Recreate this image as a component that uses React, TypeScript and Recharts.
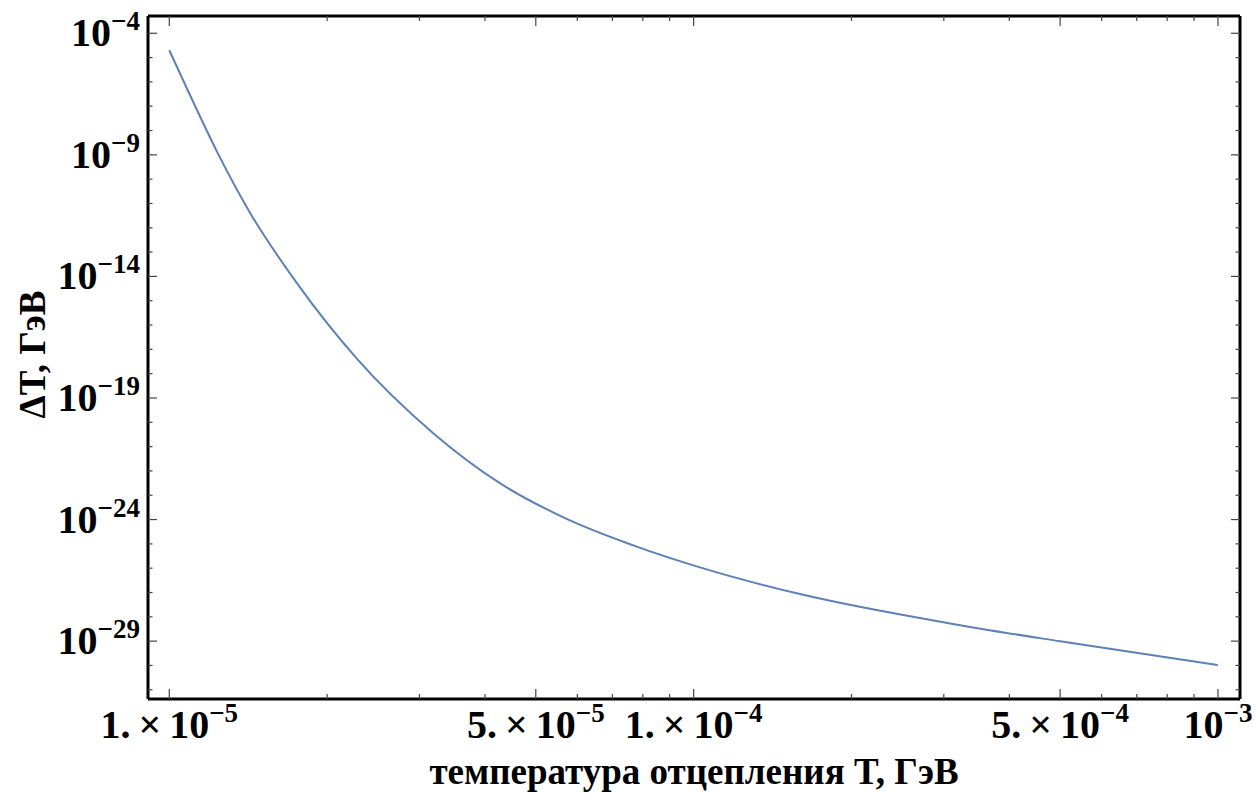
import React from 'react';
import { LineChart, Line, XAxis, YAxis } from 'recharts';

// decoupling temperature T (GeV)
const temperatures = [1.0e-5, 1.095e-5, 1.231e-5, 1.426e-5, 1.75e-5, 2.283e-5, 3.187e-5, 4.27e-5, 5.725e-5, 7.67e-5, 1.028e-4, 1.603e-4, 3.12e-4, 5.0e-4, 1.0e-3];
// ΔT (GeV)
const deltaT = [2.0e-5, 2.9e-7, 1.45e-9, 4.08e-12, 5.4e-15, 3.94e-18, 3.57e-21, 3.14e-23, 1.07e-24, 8.7e-26, 1.08e-26, 8.4e-28, 5.1e-29, 9.8e-30, 1.03e-30];

const xMajorTicks = [1e-5, 5e-5, 1e-4, 5e-4, 1e-3];
const xMajorLabels = [
  { base: '1.\u2009\u00d7\u200910', exp: '\u22125' },
  { base: '5.\u2009\u00d7\u200910', exp: '\u22125' },
  { base: '1.\u2009\u00d7\u200910', exp: '\u22124' },
  { base: '5.\u2009\u00d7\u200910', exp: '\u22124' },
  { base: '10', exp: '\u22123' },
];
const xMinorTicks = [2e-5, 3e-5, 4e-5, 6e-5, 7e-5, 8e-5, 9e-5, 2e-4, 3e-4, 4e-4, 6e-4, 7e-4, 8e-4, 9e-4];
const yMajorExponents = [-4, -9, -14, -19, -24, -29];
const yMinorExponents = [-5, -6, -7, -8, -10, -11, -12, -13, -15, -16, -17, -18, -20, -21, -22, -23, -25, -26, -27, -28, -30, -31];

const xTitle = 'температура отцепления T, ГэВ';
const yTitle = 'ΔT, ГэВ';

const data = temperatures.map((t, i) => ({ t, d: deltaT[i] }));

const xTicks = [...xMajorTicks, ...xMinorTicks].sort((a, b) => a - b);
const yTicks = [...yMajorExponents, ...yMinorExponents].sort((a, b) => a - b).map((e) => Math.pow(10, e));

const FONT = '"Liberation Serif", "Times New Roman", Times, serif';
const TICK_COLOR = '#444';
const BASE_SIZE = 40;
const SUP_SIZE = 27;

const isXMajor = (v: number) => xMajorTicks.findIndex((m) => Math.abs(m - v) / m < 1e-6);
const yExp = (v: number) => Math.round(Math.log10(v));
const isYMajor = (v: number) => yMajorExponents.includes(yExp(v));

const BottomTick = (props: any) => {
  const { x, y, payload } = props;
  const idx = isXMajor(payload.value);
  const len = idx >= 0 ? 10 : 5;
  return (
    <g>
      <line x1={x} x2={x} y1={y} y2={y - len} stroke={TICK_COLOR} strokeWidth={1.2} />
      {idx >= 0 && (
        <text x={x} y={y + 39} textAnchor="middle" fontFamily={FONT} fontWeight="bold" fontSize={BASE_SIZE} fill="#000">
          <tspan>{xMajorLabels[idx].base}</tspan>
          <tspan dy={-16} fontSize={SUP_SIZE}>{xMajorLabels[idx].exp}</tspan>
        </text>
      )}
    </g>
  );
};

const TopTick = (props: any) => {
  const { x, y, payload } = props;
  const idx = isXMajor(payload.value);
  const len = idx >= 0 ? 10 : 5;
  return <line x1={x} x2={x} y1={y} y2={y + len} stroke={TICK_COLOR} strokeWidth={1.2} />;
};

const LeftTick = (props: any) => {
  const { x, y, payload } = props;
  const major = isYMajor(payload.value);
  const len = major ? 9 : 4.5;
  return (
    <g>
      <line x1={x} x2={x + len} y1={y} y2={y} stroke={TICK_COLOR} strokeWidth={1.2} />
      {major && (
        <text x={x - 8} y={y + 13} textAnchor="end" fontFamily={FONT} fontWeight="bold" fontSize={BASE_SIZE} fill="#000">
          <tspan>10</tspan>
          <tspan dy={-16} fontSize={SUP_SIZE}>{'\u2212' + String(-yExp(payload.value))}</tspan>
        </text>
      )}
    </g>
  );
};

const RightTick = (props: any) => {
  const { x, y, payload } = props;
  const major = isYMajor(payload.value);
  const len = major ? 9 : 4.5;
  return <line x1={x} x2={x - len} y1={y} y2={y} stroke={TICK_COLOR} strokeWidth={1.2} />;
};

const XTitle = (props: any) => {
  const vb = props.viewBox || {};
  return (
    <text x={vb.x + vb.width / 2} y={vb.y + 85} textAnchor="middle" fontFamily={FONT} fontWeight="bold" fontSize={37} fill="#000">
      {xTitle}
    </text>
  );
};

const YTitle = (props: any) => {
  const vb = props.viewBox || {};
  const cx = 45;
  const cy = vb.y + vb.height / 2 - 3;
  return (
    <text x={cx} y={cy} transform={`rotate(-90, ${cx}, ${cy})`} textAnchor="middle" fontFamily={FONT} fontWeight="bold" fontSize={37} fill="#000">
      {yTitle}
    </text>
  );
};

const xDomain = [Math.pow(10, -5.0406), Math.pow(10, -2.958)];
const yDomain = [Math.pow(10, -31.38), Math.pow(10, -3.29)];

export default function App() {
  return (
    <div style={{ position: 'absolute', left: 0, top: 0, background: '#fff' }}>
      <LineChart width={1256} height={796} data={data} margin={{ top: 15, right: 15, left: 0, bottom: 0 }}>
        <XAxis
          xAxisId="b"
          dataKey="t"
          type="number"
          scale="log"
          domain={xDomain}
          allowDataOverflow
          ticks={xTicks}
          interval={0}
          tickSize={0}
          tickMargin={0}
          height={97}
          axisLine={{ stroke: '#000', strokeWidth: 3 }}
          tickLine={false}
          tick={<BottomTick />}
          label={{ content: <XTitle /> }}
        />
        <XAxis
          xAxisId="t"
          orientation="top"
          dataKey="t"
          type="number"
          scale="log"
          domain={xDomain}
          allowDataOverflow
          ticks={xTicks}
          interval={0}
          tickSize={0}
          tickMargin={0}
          height={1}
          axisLine={{ stroke: '#000', strokeWidth: 3 }}
          tickLine={false}
          tick={<TopTick />}
        />
        <YAxis
          yAxisId="l"
          type="number"
          scale="log"
          domain={yDomain}
          allowDataOverflow
          ticks={yTicks}
          interval={0}
          tickSize={0}
          tickMargin={0}
          width={148}
          axisLine={{ stroke: '#000', strokeWidth: 3 }}
          tickLine={false}
          tick={<LeftTick />}
          label={{ content: <YTitle /> }}
        />
        <YAxis
          yAxisId="r"
          orientation="right"
          type="number"
          scale="log"
          domain={yDomain}
          allowDataOverflow
          ticks={yTicks}
          interval={0}
          tickSize={0}
          tickMargin={0}
          width={1}
          axisLine={{ stroke: '#000', strokeWidth: 3 }}
          tickLine={false}
          tick={<RightTick />}
        />
        <Line
          xAxisId="b"
          yAxisId="l"
          type="monotone"
          dataKey="d"
          stroke="#5E81B5"
          strokeWidth={2}
          dot={false}
          isAnimationActive={false}
        />
      </LineChart>
    </div>
  );
}
